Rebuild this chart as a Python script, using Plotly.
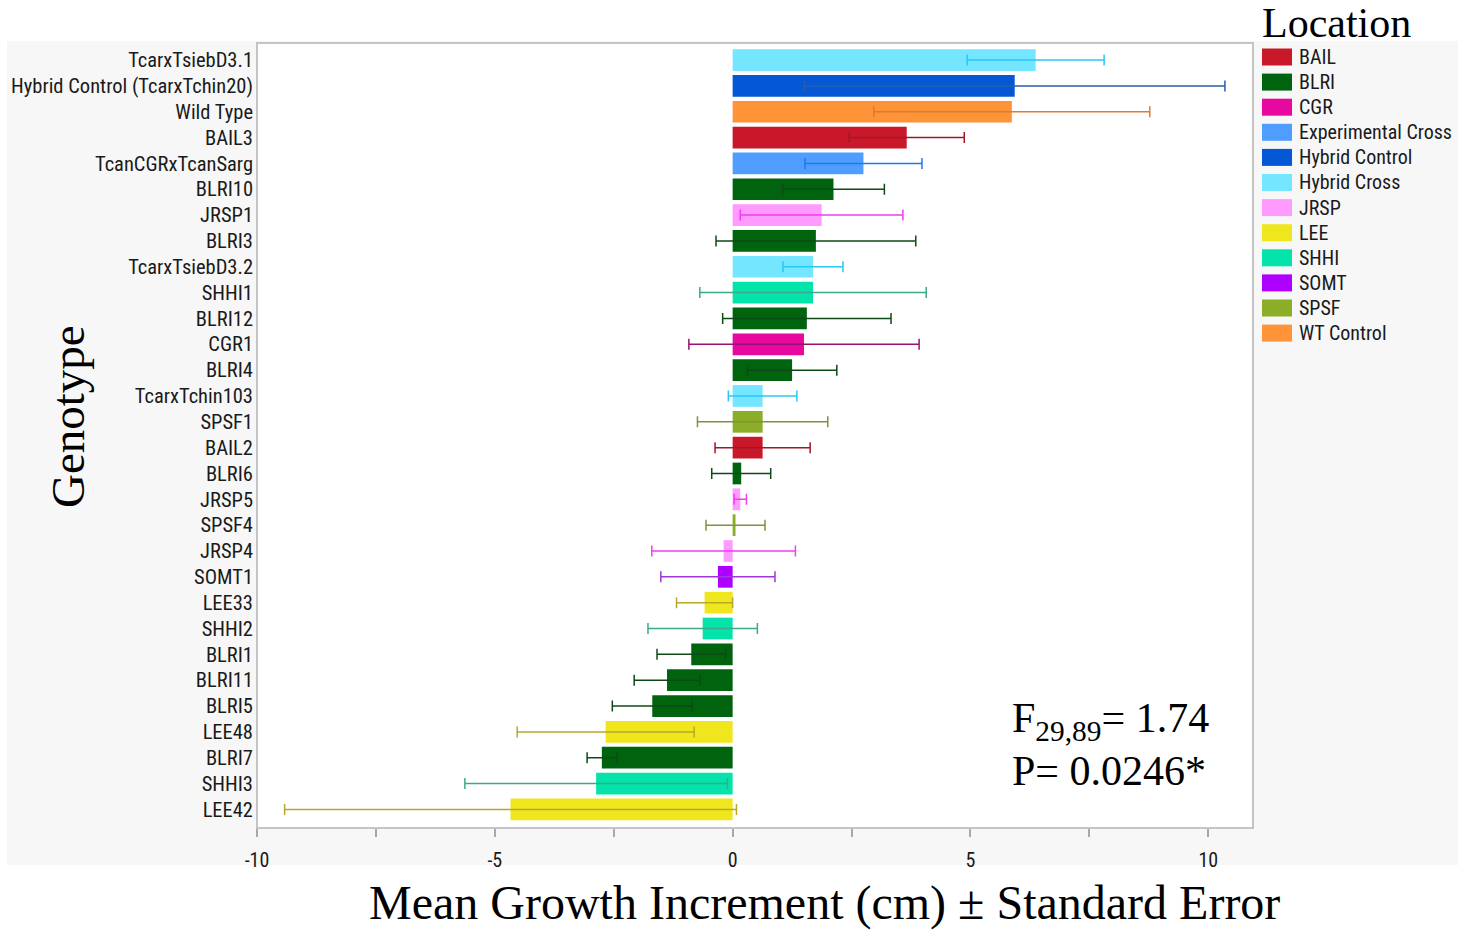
import plotly.graph_objects as go

# ---------------- data ----------------
genotypes = [
    "TcarxTsiebD3.1", "Hybrid Control (TcarxTchin20)", "Wild Type", "BAIL3",
    "TcanCGRxTcanSarg", "BLRI10", "JRSP1", "BLRI3", "TcarxTsiebD3.2", "SHHI1",
    "BLRI12", "CGR1", "BLRI4", "TcarxTchin103", "SPSF1", "BAIL2", "BLRI6",
    "JRSP5", "SPSF4", "JRSP4", "SOMT1", "LEE33", "SHHI2", "BLRI1", "BLRI11",
    "BLRI5", "LEE48", "BLRI7", "SHHI3", "LEE42",
]
genotype_location = [
    "Hybrid Cross", "Hybrid Control", "WT Control", "BAIL",
    "Experimental Cross", "BLRI", "JRSP", "BLRI", "Hybrid Cross", "SHHI",
    "BLRI", "CGR", "BLRI", "Hybrid Cross", "SPSF", "BAIL", "BLRI",
    "JRSP", "SPSF", "JRSP", "SOMT", "LEE", "SHHI", "BLRI", "BLRI",
    "BLRI", "LEE", "BLRI", "SHHI", "LEE",
]
mean_growth = [
    6.37, 5.93, 5.87, 3.66, 2.75, 2.12, 1.87, 1.75, 1.69, 1.69,
    1.56, 1.50, 1.25, 0.63, 0.63, 0.63, 0.18, 0.16, 0.06, -0.19,
    -0.31, -0.59, -0.63, -0.87, -1.38, -1.69, -2.67, -2.75, -2.87, -4.67,
]
std_error = [
    1.44, 4.42, 2.90, 1.21, 1.23, 1.07, 1.71, 2.10, 0.63, 2.38,
    1.77, 2.42, 0.94, 0.72, 1.37, 1.00, 0.62, 0.13, 0.62, 1.51,
    1.20, 0.59, 1.15, 0.72, 0.69, 0.84, 1.86, 0.31, 2.76, 4.75,
]
locations = ["BAIL", "BLRI", "CGR", "Experimental Cross", "Hybrid Control",
             "Hybrid Cross", "JRSP", "LEE", "SHHI", "SOMT", "SPSF", "WT Control"]
bar_colors = ["#C8182A", "#00640F", "#E808A0", "#4F9EFF", "#0457D5",
              "#74E6FF", "#FF9AFF", "#F0E61E", "#04E3A9", "#AE00FF", "#8BAD28", "#FF9338"]
err_colors = ["#A01828", "#0E4A16", "#9A1070", "#1E78F0", "#2B5DA8",
              "#28C8F5", "#F23CF2", "#B8A828", "#3BAA88", "#9E38D8", "#7D9438", "#E07A30"]

x_ticks = [-10, -5, 0, 5, 10]

# ---------------- geometry ----------------
W, H = 1472, 932
ML, MR, MT, MB = 257, 219, 43, 104
PW, PH = W - ML - MR, H - MT - MB


def px(xp):
    return (xp - ML) / PW


def py(yp):
    return (H - MB - yp) / PH


tick_font = "Liberation Sans Narrow, Roboto Condensed, Roboto, sans-serif"
serif = "Liberation Serif, Times New Roman, serif"

fig = go.Figure()
for loc, bc, ec in zip(locations, bar_colors, err_colors):
    idx = [i for i, l in enumerate(genotype_location) if l == loc]
    fig.add_trace(go.Bar(
        y=[genotypes[i] for i in idx],
        x=[mean_growth[i] for i in idx],
        orientation="h",
        name=loc,
        marker=dict(color=bc, line=dict(width=0)),
        error_x=dict(type="data", array=[std_error[i] for i in idx],
                     color=ec, thickness=1.5, width=5.5, visible=True),
        showlegend=False,
    ))

shapes = [
    # grey report background
    dict(type="rect", xref="paper", yref="paper", layer="below",
         x0=px(7), x1=px(1458), y0=py(865), y1=py(41),
         fillcolor="#F7F7F7", line=dict(width=0)),
    # white plot frame
    dict(type="rect", xref="paper", yref="paper", layer="below",
         x0=0, x1=1, y0=0, y1=1,
         fillcolor="white", line=dict(color="#C4C4C4", width=2)),
]
annotations = []

# manual legend
for i, (loc, bc) in enumerate(zip(locations, bar_colors)):
    yc = 57 + 25.1 * i
    shapes.append(dict(type="rect", xref="paper", yref="paper",
                       x0=px(1262), x1=px(1292), y0=py(yc + 8.5), y1=py(yc - 8.5),
                       fillcolor=bc, line=dict(width=0)))
    annotations.append(dict(xref="paper", yref="paper", x=px(1297), y=py(yc),
                            text=loc, showarrow=False, xanchor="left", yanchor="middle",
                            font=dict(family=tick_font, size=20, color="#1a1a1a")))

annotations += [
    dict(xref="paper", yref="paper", x=px(1260), y=py(23), text="Location",
         showarrow=False, xanchor="left", yanchor="middle",
         font=dict(family=serif, size=42, color="black")),
    dict(xref="paper", yref="paper", x=px(68), y=py(417), text="Genotype",
         textangle=-90, showarrow=False, xanchor="center", yanchor="middle",
         font=dict(family=serif, size=47, color="black")),
    dict(xref="paper", yref="paper", x=px(824), y=py(903),
         text="Mean Growth Increment (cm) ± Standard Error",
         showarrow=False, xanchor="center", yanchor="middle",
         font=dict(family=serif, size=48, color="black")),
    dict(xref="paper", yref="paper", x=px(1010), y=py(721),
         text="F<sub>29,89</sub>= 1.74",
         showarrow=False, xanchor="left", yanchor="middle",
         font=dict(family=serif, size=42, color="black")),
    dict(xref="paper", yref="paper", x=px(1010), y=py(771),
         text="P= 0.0246*",
         showarrow=False, xanchor="left", yanchor="middle",
         font=dict(family=serif, size=42, color="black")),
]

fig.update_layout(
    width=W, height=H,
    margin=dict(l=ML, r=MR, t=MT, b=MB),
    paper_bgcolor="white", plot_bgcolor="rgba(0,0,0,0)",
    barmode="overlay", bargap=0.16,
    shapes=shapes, annotations=annotations,
    xaxis=dict(range=[-10, 10.94], tickvals=x_ticks, ticktext=[str(v) for v in x_ticks],
               showgrid=False, zeroline=False, showline=False,
               ticks="outside", ticklen=8, tickcolor="#A8A8A8", tickwidth=1.5,
               minor=dict(dtick=2.5, tick0=0, ticks="outside", ticklen=8,
                          tickcolor="#A8A8A8", tickwidth=1.5, showgrid=False),
               tickfont=dict(family=tick_font, size=20, color="#1a1a1a"),
               ticklabelstandoff=6),
    yaxis=dict(type="category", categoryorder="array", categoryarray=genotypes,
               range=[len(genotypes) - 1 + 0.72, -0.66],
               showgrid=False, zeroline=False, showline=False, ticks="",
               tickfont=dict(family=tick_font, size=20.5, color="#1a1a1a"),
               ticklabelstandoff=3),
)

fig.write_html("out.html")
